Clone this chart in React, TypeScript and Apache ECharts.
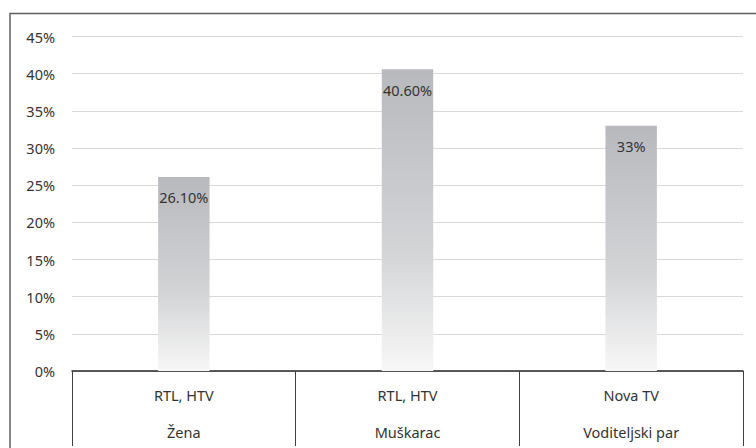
import React, { useEffect, useRef } from "react";
import * as echarts from "echarts";

const innerCategories = ["RTL, HTV", "RTL, HTV", "Nova TV"];
const outerCategories = ["Žena", "Muškarac", "Voditeljski par"];
const values = [26.1, 40.6, 33];
const valueLabels = ["26.10%", "40.60%", "33%"];
const yTicks = [0, 5, 10, 15, 20, 25, 30, 35, 40, 45];

const FONT = "'Noto Sans', 'Open Sans', sans-serif";
const TXT = "#333333";

export default function App() {
  const ref = useRef<HTMLDivElement>(null);
  useEffect(() => {
    if (!ref.current) return;
    const chart = echarts.init(ref.current, undefined, { renderer: "svg" });
    chart.setOption({
      animation: false,
      backgroundColor: "#ffffff",
      textStyle: { fontFamily: FONT },
      graphic: [
        {
          type: "rect",
          shape: { x: 10, y: 13.5, width: 800, height: 500 },
          style: { fill: "none", stroke: "#5f5f5f", lineWidth: 1.5 },
          silent: true,
        },
      ],
      grid: { left: 72, right: 13, top: 36.5, bottom: 77 },
      xAxis: {
        type: "category",
        data: innerCategories.map((c, i) => c + "|" + outerCategories[i]),
        axisLine: { lineStyle: { color: "#262626", width: 1.5 } },
        axisTick: {
          show: true,
          alignWithLabel: false,
          interval: 0,
          length: 75,
          lineStyle: { color: "#404040", width: 1 },
        },
        axisLabel: {
          interval: 0,
          margin: 5,
          formatter: (v: string) => {
            const [a, b] = v.split("|");
            return "{a|" + a + "}\n{b|" + b + "}";
          },
          rich: {
            a: { fontSize: 14.5, lineHeight: 37, color: TXT, fontFamily: FONT },
            b: { fontSize: 14.5, lineHeight: 37, color: TXT, fontFamily: FONT },
          },
        },
      },
      yAxis: {
        type: "value",
        min: yTicks[0],
        max: yTicks[yTicks.length - 1],
        interval: 5,
        axisLine: { show: false },
        axisTick: { show: false },
        axisLabel: {
          formatter: (v: number) => v + "%",
          color: TXT,
          fontSize: 14.5,
          margin: 17,
          fontFamily: FONT,
        },
        splitLine: { lineStyle: { color: "#d9d9d9", width: 1 } },
      },
      series: [
        {
          type: "bar",
          data: values,
          barWidth: "23%",
          itemStyle: {
            color: new echarts.graphic.LinearGradient(0, 0, 0, 1, [
              { offset: 0, color: "#b8b9bd" },
              { offset: 0.6, color: "#d3d4d6" },
              { offset: 1, color: "#f7f7f7" },
            ]),
          },
          label: {
            show: true,
            position: "insideTop",
            distance: 13,
            color: TXT,
            fontSize: 14.5,
            fontFamily: FONT,
            formatter: (p: any) => valueLabels[p.dataIndex],
          },
        },
      ],
    });
    return () => chart.dispose();
  }, []);
  return (
    <div
      ref={ref}
      style={{ position: "absolute", left: 0, top: 0, width: 756, height: 448 }}
    />
  );
}
